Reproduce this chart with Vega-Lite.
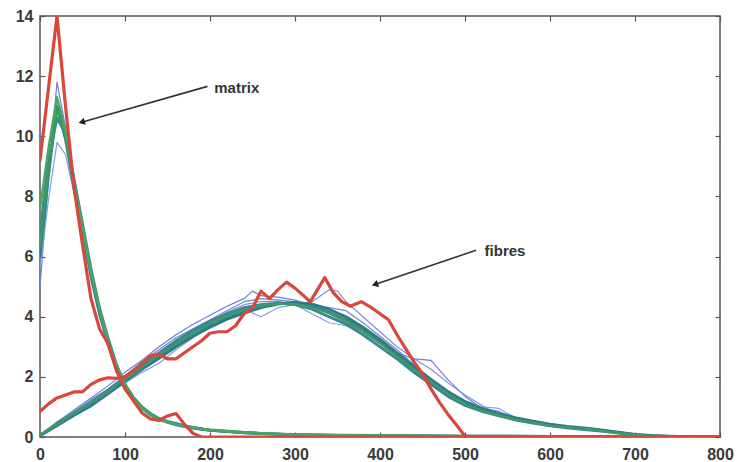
{
  "$schema": "https://vega.github.io/schema/vega-lite/v6.json",
  "width": 680,
  "height": 421,
  "autosize": "none",
  "padding": {"left": 40, "top": 16, "right": 19, "bottom": 25},
  "background": "white",
  "config": {
    "view": {"stroke": "#555", "strokeWidth": 1.5},
    "axis": {
      "domain": false, "grid": false, "tickColor": "#555", "tickSize": -5, "tickWidth": 1.2,
      "labelFont": "Liberation Sans", "labelFontSize": 16, "labelFontWeight": "bold", "labelColor": "#3a3a3a",
      "title": null
    }
  },
  "datasets": {
    "curves": [
      {"id":"mb1","x":0,"y":5.0},{"id":"mb1","x":10,"y":8.6},{"id":"mb1","x":20,"y":11.8},{"id":"mb1","x":30,"y":10.3},{"id":"mb1","x":40,"y":8.4},{"id":"mb1","x":50,"y":6.7},{"id":"mb1","x":60,"y":5.2},{"id":"mb1","x":70,"y":4.0},{"id":"mb1","x":80,"y":3.0},{"id":"mb1","x":90,"y":2.2},{"id":"mb1","x":100,"y":1.6},{"id":"mb1","x":110,"y":1.22},{"id":"mb1","x":120,"y":0.92},{"id":"mb1","x":130,"y":0.7},{"id":"mb1","x":140,"y":0.55},{"id":"mb1","x":150,"y":0.46},{"id":"mb1","x":160,"y":0.38},{"id":"mb1","x":170,"y":0.32},{"id":"mb1","x":180,"y":0.27},{"id":"mb1","x":190,"y":0.23},{"id":"mb1","x":200,"y":0.2},{"id":"mb1","x":220,"y":0.16},{"id":"mb1","x":240,"y":0.12},{"id":"mb1","x":260,"y":0.1},{"id":"mb1","x":280,"y":0.08},{"id":"mb1","x":300,"y":0.06},{"id":"mb1","x":350,"y":0.05},{"id":"mb1","x":400,"y":0.04},{"id":"mb1","x":450,"y":0.03},{"id":"mb1","x":500,"y":0.02},{"id":"mb1","x":600,"y":0.02},{"id":"mb1","x":700,"y":0.01},{"id":"mb1","x":800,"y":0},
      {"id":"mb2","x":0,"y":5.6},{"id":"mb2","x":10,"y":7.9},{"id":"mb2","x":20,"y":9.8},{"id":"mb2","x":30,"y":9.4},{"id":"mb2","x":40,"y":8.1},{"id":"mb2","x":50,"y":6.8},{"id":"mb2","x":60,"y":5.4},{"id":"mb2","x":70,"y":4.2},{"id":"mb2","x":80,"y":3.15},{"id":"mb2","x":90,"y":2.3},{"id":"mb2","x":100,"y":1.7},{"id":"mb2","x":110,"y":1.3},{"id":"mb2","x":120,"y":0.98},{"id":"mb2","x":130,"y":0.75},{"id":"mb2","x":140,"y":0.58},{"id":"mb2","x":150,"y":0.48},{"id":"mb2","x":160,"y":0.4},{"id":"mb2","x":170,"y":0.34},{"id":"mb2","x":180,"y":0.29},{"id":"mb2","x":190,"y":0.25},{"id":"mb2","x":200,"y":0.21},{"id":"mb2","x":220,"y":0.17},{"id":"mb2","x":240,"y":0.13},{"id":"mb2","x":260,"y":0.11},{"id":"mb2","x":280,"y":0.09},{"id":"mb2","x":300,"y":0.07},{"id":"mb2","x":350,"y":0.05},{"id":"mb2","x":400,"y":0.04},{"id":"mb2","x":500,"y":0.03},{"id":"mb2","x":600,"y":0.02},{"id":"mb2","x":700,"y":0.01},{"id":"mb2","x":800,"y":0},
      {"id":"fb1","x":0,"y":0.06},{"id":"fb1","x":20,"y":0.5},{"id":"fb1","x":40,"y":0.9},{"id":"fb1","x":60,"y":1.3},{"id":"fb1","x":80,"y":1.7},{"id":"fb1","x":100,"y":2.15},{"id":"fb1","x":120,"y":2.55},{"id":"fb1","x":140,"y":3.0},{"id":"fb1","x":160,"y":3.4},{"id":"fb1","x":180,"y":3.75},{"id":"fb1","x":200,"y":4.05},{"id":"fb1","x":220,"y":4.35},{"id":"fb1","x":240,"y":4.6},{"id":"fb1","x":250,"y":4.85},{"id":"fb1","x":260,"y":4.7},{"id":"fb1","x":280,"y":4.65},{"id":"fb1","x":300,"y":4.55},{"id":"fb1","x":320,"y":4.35},{"id":"fb1","x":340,"y":4.1},{"id":"fb1","x":360,"y":3.8},{"id":"fb1","x":380,"y":3.5},{"id":"fb1","x":400,"y":3.15},{"id":"fb1","x":420,"y":2.8},{"id":"fb1","x":440,"y":2.6},{"id":"fb1","x":460,"y":2.55},{"id":"fb1","x":480,"y":1.9},{"id":"fb1","x":500,"y":1.35},{"id":"fb1","x":520,"y":0.95},{"id":"fb1","x":540,"y":0.85},{"id":"fb1","x":560,"y":0.6},{"id":"fb1","x":580,"y":0.48},{"id":"fb1","x":600,"y":0.38},{"id":"fb1","x":640,"y":0.27},{"id":"fb1","x":680,"y":0.14},{"id":"fb1","x":700,"y":0.07},{"id":"fb1","x":740,"y":0.02},{"id":"fb1","x":800,"y":0},
      {"id":"fb2","x":0,"y":0.05},{"id":"fb2","x":20,"y":0.42},{"id":"fb2","x":40,"y":0.8},{"id":"fb2","x":60,"y":1.2},{"id":"fb2","x":80,"y":1.6},{"id":"fb2","x":100,"y":2.0},{"id":"fb2","x":120,"y":2.4},{"id":"fb2","x":140,"y":2.75},{"id":"fb2","x":160,"y":3.15},{"id":"fb2","x":180,"y":3.5},{"id":"fb2","x":200,"y":3.85},{"id":"fb2","x":220,"y":4.15},{"id":"fb2","x":240,"y":4.4},{"id":"fb2","x":260,"y":4.5},{"id":"fb2","x":280,"y":4.5},{"id":"fb2","x":300,"y":4.4},{"id":"fb2","x":320,"y":4.5},{"id":"fb2","x":340,"y":4.9},{"id":"fb2","x":350,"y":4.85},{"id":"fb2","x":360,"y":4.5},{"id":"fb2","x":380,"y":4.0},{"id":"fb2","x":400,"y":3.5},{"id":"fb2","x":420,"y":3.0},{"id":"fb2","x":440,"y":2.6},{"id":"fb2","x":460,"y":2.25},{"id":"fb2","x":480,"y":1.8},{"id":"fb2","x":500,"y":1.4},{"id":"fb2","x":520,"y":1.05},{"id":"fb2","x":540,"y":0.75},{"id":"fb2","x":560,"y":0.55},{"id":"fb2","x":580,"y":0.45},{"id":"fb2","x":600,"y":0.36},{"id":"fb2","x":640,"y":0.26},{"id":"fb2","x":680,"y":0.14},{"id":"fb2","x":700,"y":0.07},{"id":"fb2","x":740,"y":0.02},{"id":"fb2","x":800,"y":0},
      {"id":"fb3","x":0,"y":0.04},{"id":"fb3","x":20,"y":0.36},{"id":"fb3","x":40,"y":0.7},{"id":"fb3","x":60,"y":1.0},{"id":"fb3","x":80,"y":1.4},{"id":"fb3","x":100,"y":1.8},{"id":"fb3","x":120,"y":2.15},{"id":"fb3","x":140,"y":2.45},{"id":"fb3","x":160,"y":2.9},{"id":"fb3","x":180,"y":3.3},{"id":"fb3","x":200,"y":3.7},{"id":"fb3","x":220,"y":4.05},{"id":"fb3","x":240,"y":4.25},{"id":"fb3","x":260,"y":4.0},{"id":"fb3","x":280,"y":4.3},{"id":"fb3","x":300,"y":4.4},{"id":"fb3","x":320,"y":4.1},{"id":"fb3","x":340,"y":3.8},{"id":"fb3","x":360,"y":3.7},{"id":"fb3","x":380,"y":3.5},{"id":"fb3","x":400,"y":3.1},{"id":"fb3","x":420,"y":2.7},{"id":"fb3","x":440,"y":2.3},{"id":"fb3","x":460,"y":1.9},{"id":"fb3","x":480,"y":1.5},{"id":"fb3","x":500,"y":1.2},{"id":"fb3","x":520,"y":1.0},{"id":"fb3","x":540,"y":0.95},{"id":"fb3","x":560,"y":0.62},{"id":"fb3","x":580,"y":0.48},{"id":"fb3","x":600,"y":0.38},{"id":"fb3","x":640,"y":0.26},{"id":"fb3","x":680,"y":0.13},{"id":"fb3","x":700,"y":0.06},{"id":"fb3","x":740,"y":0.02},{"id":"fb3","x":800,"y":0},
      {"id":"fb4","x":0,"y":0.05},{"id":"fb4","x":20,"y":0.45},{"id":"fb4","x":40,"y":0.85},{"id":"fb4","x":60,"y":1.25},{"id":"fb4","x":80,"y":1.6},{"id":"fb4","x":100,"y":2.05},{"id":"fb4","x":120,"y":2.5},{"id":"fb4","x":140,"y":2.9},{"id":"fb4","x":160,"y":3.3},{"id":"fb4","x":180,"y":3.6},{"id":"fb4","x":200,"y":3.9},{"id":"fb4","x":220,"y":4.2},{"id":"fb4","x":240,"y":4.5},{"id":"fb4","x":260,"y":4.6},{"id":"fb4","x":280,"y":4.55},{"id":"fb4","x":300,"y":4.5},{"id":"fb4","x":320,"y":4.4},{"id":"fb4","x":340,"y":4.3},{"id":"fb4","x":360,"y":4.2},{"id":"fb4","x":380,"y":3.8},{"id":"fb4","x":400,"y":3.35},{"id":"fb4","x":420,"y":2.9},{"id":"fb4","x":440,"y":2.4},{"id":"fb4","x":460,"y":1.95},{"id":"fb4","x":480,"y":1.55},{"id":"fb4","x":500,"y":1.2},{"id":"fb4","x":520,"y":0.92},{"id":"fb4","x":540,"y":0.78},{"id":"fb4","x":560,"y":0.6},{"id":"fb4","x":580,"y":0.48},{"id":"fb4","x":600,"y":0.4},{"id":"fb4","x":640,"y":0.28},{"id":"fb4","x":680,"y":0.15},{"id":"fb4","x":700,"y":0.08},{"id":"fb4","x":740,"y":0.03},{"id":"fb4","x":800,"y":0},
      {"id":"mt1","x":0,"y":6.0},{"id":"mt1","x":10,"y":8.7},{"id":"mt1","x":20,"y":11.0},{"id":"mt1","x":30,"y":9.9},{"id":"mt1","x":40,"y":8.3},{"id":"mt1","x":50,"y":6.9},{"id":"mt1","x":60,"y":5.4},{"id":"mt1","x":70,"y":4.1},{"id":"mt1","x":80,"y":3.2},{"id":"mt1","x":90,"y":2.35},{"id":"mt1","x":100,"y":1.7},{"id":"mt1","x":110,"y":1.28},{"id":"mt1","x":120,"y":0.97},{"id":"mt1","x":130,"y":0.74},{"id":"mt1","x":140,"y":0.58},{"id":"mt1","x":150,"y":0.5},{"id":"mt1","x":160,"y":0.42},{"id":"mt1","x":170,"y":0.35},{"id":"mt1","x":180,"y":0.3},{"id":"mt1","x":190,"y":0.26},{"id":"mt1","x":200,"y":0.22},{"id":"mt1","x":220,"y":0.18},{"id":"mt1","x":240,"y":0.14},{"id":"mt1","x":260,"y":0.11},{"id":"mt1","x":280,"y":0.09},{"id":"mt1","x":300,"y":0.07},{"id":"mt1","x":350,"y":0.05},{"id":"mt1","x":400,"y":0.04},{"id":"mt1","x":500,"y":0.03},{"id":"mt1","x":600,"y":0.02},{"id":"mt1","x":700,"y":0.01},{"id":"mt1","x":800,"y":0},
      {"id":"mt2","x":0,"y":6.8},{"id":"mt2","x":10,"y":9.2},{"id":"mt2","x":20,"y":10.6},{"id":"mt2","x":30,"y":10.1},{"id":"mt2","x":40,"y":8.6},{"id":"mt2","x":50,"y":7.1},{"id":"mt2","x":60,"y":5.6},{"id":"mt2","x":70,"y":4.3},{"id":"mt2","x":80,"y":3.3},{"id":"mt2","x":90,"y":2.4},{"id":"mt2","x":100,"y":1.75},{"id":"mt2","x":110,"y":1.32},{"id":"mt2","x":120,"y":1.0},{"id":"mt2","x":130,"y":0.78},{"id":"mt2","x":140,"y":0.62},{"id":"mt2","x":150,"y":0.52},{"id":"mt2","x":160,"y":0.45},{"id":"mt2","x":170,"y":0.38},{"id":"mt2","x":180,"y":0.32},{"id":"mt2","x":190,"y":0.27},{"id":"mt2","x":200,"y":0.23},{"id":"mt2","x":220,"y":0.19},{"id":"mt2","x":240,"y":0.15},{"id":"mt2","x":260,"y":0.12},{"id":"mt2","x":280,"y":0.1},{"id":"mt2","x":300,"y":0.08},{"id":"mt2","x":350,"y":0.06},{"id":"mt2","x":400,"y":0.05},{"id":"mt2","x":500,"y":0.03},{"id":"mt2","x":600,"y":0.02},{"id":"mt2","x":700,"y":0.01},{"id":"mt2","x":800,"y":0},
      {"id":"ft1","x":0,"y":0.05},{"id":"ft1","x":20,"y":0.4},{"id":"ft1","x":40,"y":0.75},{"id":"ft1","x":60,"y":1.1},{"id":"ft1","x":80,"y":1.5},{"id":"ft1","x":100,"y":1.9},{"id":"ft1","x":120,"y":2.3},{"id":"ft1","x":140,"y":2.7},{"id":"ft1","x":160,"y":3.1},{"id":"ft1","x":180,"y":3.45},{"id":"ft1","x":200,"y":3.75},{"id":"ft1","x":220,"y":4.0},{"id":"ft1","x":240,"y":4.2},{"id":"ft1","x":260,"y":4.35},{"id":"ft1","x":280,"y":4.45},{"id":"ft1","x":300,"y":4.45},{"id":"ft1","x":320,"y":4.35},{"id":"ft1","x":340,"y":4.15},{"id":"ft1","x":360,"y":3.9},{"id":"ft1","x":380,"y":3.55},{"id":"ft1","x":400,"y":3.15},{"id":"ft1","x":420,"y":2.7},{"id":"ft1","x":440,"y":2.25},{"id":"ft1","x":460,"y":1.85},{"id":"ft1","x":480,"y":1.45},{"id":"ft1","x":500,"y":1.12},{"id":"ft1","x":520,"y":0.9},{"id":"ft1","x":540,"y":0.74},{"id":"ft1","x":560,"y":0.6},{"id":"ft1","x":580,"y":0.5},{"id":"ft1","x":600,"y":0.4},{"id":"ft1","x":620,"y":0.33},{"id":"ft1","x":640,"y":0.28},{"id":"ft1","x":660,"y":0.22},{"id":"ft1","x":680,"y":0.15},{"id":"ft1","x":700,"y":0.08},{"id":"ft1","x":720,"y":0.04},{"id":"ft1","x":740,"y":0.02},{"id":"ft1","x":760,"y":0.01},{"id":"ft1","x":800,"y":0},
      {"id":"ft2","x":0,"y":0.05},{"id":"ft2","x":20,"y":0.45},{"id":"ft2","x":40,"y":0.8},{"id":"ft2","x":60,"y":1.15},{"id":"ft2","x":80,"y":1.55},{"id":"ft2","x":100,"y":1.95},{"id":"ft2","x":120,"y":2.4},{"id":"ft2","x":140,"y":2.8},{"id":"ft2","x":160,"y":3.2},{"id":"ft2","x":180,"y":3.55},{"id":"ft2","x":200,"y":3.85},{"id":"ft2","x":220,"y":4.1},{"id":"ft2","x":240,"y":4.3},{"id":"ft2","x":260,"y":4.4},{"id":"ft2","x":280,"y":4.45},{"id":"ft2","x":300,"y":4.4},{"id":"ft2","x":320,"y":4.25},{"id":"ft2","x":340,"y":4.0},{"id":"ft2","x":360,"y":3.75},{"id":"ft2","x":380,"y":3.4},{"id":"ft2","x":400,"y":3.0},{"id":"ft2","x":420,"y":2.6},{"id":"ft2","x":440,"y":2.15},{"id":"ft2","x":460,"y":1.75},{"id":"ft2","x":480,"y":1.35},{"id":"ft2","x":500,"y":1.05},{"id":"ft2","x":520,"y":0.85},{"id":"ft2","x":540,"y":0.7},{"id":"ft2","x":560,"y":0.56},{"id":"ft2","x":580,"y":0.46},{"id":"ft2","x":600,"y":0.37},{"id":"ft2","x":620,"y":0.3},{"id":"ft2","x":640,"y":0.25},{"id":"ft2","x":660,"y":0.2},{"id":"ft2","x":680,"y":0.13},{"id":"ft2","x":700,"y":0.07},{"id":"ft2","x":720,"y":0.03},{"id":"ft2","x":740,"y":0.02},{"id":"ft2","x":760,"y":0.01},{"id":"ft2","x":800,"y":0},
      {"id":"ft3","x":0,"y":0.04},{"id":"ft3","x":20,"y":0.38},{"id":"ft3","x":40,"y":0.72},{"id":"ft3","x":60,"y":1.05},{"id":"ft3","x":80,"y":1.45},{"id":"ft3","x":100,"y":1.85},{"id":"ft3","x":120,"y":2.25},{"id":"ft3","x":140,"y":2.62},{"id":"ft3","x":160,"y":3.0},{"id":"ft3","x":180,"y":3.35},{"id":"ft3","x":200,"y":3.65},{"id":"ft3","x":220,"y":3.92},{"id":"ft3","x":240,"y":4.12},{"id":"ft3","x":260,"y":4.3},{"id":"ft3","x":280,"y":4.42},{"id":"ft3","x":300,"y":4.48},{"id":"ft3","x":320,"y":4.42},{"id":"ft3","x":340,"y":4.25},{"id":"ft3","x":360,"y":4.0},{"id":"ft3","x":380,"y":3.65},{"id":"ft3","x":400,"y":3.25},{"id":"ft3","x":420,"y":2.8},{"id":"ft3","x":440,"y":2.35},{"id":"ft3","x":460,"y":1.9},{"id":"ft3","x":480,"y":1.5},{"id":"ft3","x":500,"y":1.18},{"id":"ft3","x":520,"y":0.95},{"id":"ft3","x":540,"y":0.78},{"id":"ft3","x":560,"y":0.64},{"id":"ft3","x":580,"y":0.53},{"id":"ft3","x":600,"y":0.43},{"id":"ft3","x":620,"y":0.35},{"id":"ft3","x":640,"y":0.3},{"id":"ft3","x":660,"y":0.24},{"id":"ft3","x":680,"y":0.16},{"id":"ft3","x":700,"y":0.09},{"id":"ft3","x":720,"y":0.05},{"id":"ft3","x":740,"y":0.03},{"id":"ft3","x":760,"y":0.01},{"id":"ft3","x":800,"y":0},
      {"id":"mg1","x":0,"y":6.3},{"id":"mg1","x":10,"y":8.9},{"id":"mg1","x":20,"y":10.9},{"id":"mg1","x":30,"y":10.0},{"id":"mg1","x":40,"y":8.4},{"id":"mg1","x":50,"y":6.9},{"id":"mg1","x":60,"y":5.5},{"id":"mg1","x":70,"y":4.2},{"id":"mg1","x":80,"y":3.25},{"id":"mg1","x":90,"y":2.4},{"id":"mg1","x":100,"y":1.72},{"id":"mg1","x":110,"y":1.3},{"id":"mg1","x":120,"y":0.98},{"id":"mg1","x":130,"y":0.76},{"id":"mg1","x":140,"y":0.6},{"id":"mg1","x":150,"y":0.5},{"id":"mg1","x":160,"y":0.43},{"id":"mg1","x":170,"y":0.37},{"id":"mg1","x":180,"y":0.32},{"id":"mg1","x":190,"y":0.28},{"id":"mg1","x":200,"y":0.24},{"id":"mg1","x":220,"y":0.2},{"id":"mg1","x":240,"y":0.16},{"id":"mg1","x":260,"y":0.13},{"id":"mg1","x":280,"y":0.1},{"id":"mg1","x":300,"y":0.08},{"id":"mg1","x":350,"y":0.06},{"id":"mg1","x":400,"y":0.05},{"id":"mg1","x":500,"y":0.03},{"id":"mg1","x":600,"y":0.02},{"id":"mg1","x":700,"y":0.01},{"id":"mg1","x":800,"y":0.01},
      {"id":"mg2","x":0,"y":7.6},{"id":"mg2","x":10,"y":9.6},{"id":"mg2","x":20,"y":11.3},{"id":"mg2","x":30,"y":10.2},{"id":"mg2","x":40,"y":8.5},{"id":"mg2","x":50,"y":7.0},{"id":"mg2","x":60,"y":5.5},{"id":"mg2","x":70,"y":4.25},{"id":"mg2","x":80,"y":3.2},{"id":"mg2","x":90,"y":2.35},{"id":"mg2","x":100,"y":1.7},{"id":"mg2","x":110,"y":1.27},{"id":"mg2","x":120,"y":0.95},{"id":"mg2","x":130,"y":0.73},{"id":"mg2","x":140,"y":0.58},{"id":"mg2","x":150,"y":0.49},{"id":"mg2","x":160,"y":0.42},{"id":"mg2","x":170,"y":0.36},{"id":"mg2","x":180,"y":0.31},{"id":"mg2","x":190,"y":0.27},{"id":"mg2","x":200,"y":0.23},{"id":"mg2","x":220,"y":0.19},{"id":"mg2","x":240,"y":0.15},{"id":"mg2","x":260,"y":0.12},{"id":"mg2","x":280,"y":0.1},{"id":"mg2","x":300,"y":0.08},{"id":"mg2","x":350,"y":0.06},{"id":"mg2","x":400,"y":0.04},{"id":"mg2","x":500,"y":0.03},{"id":"mg2","x":600,"y":0.02},{"id":"mg2","x":700,"y":0.01},{"id":"mg2","x":800,"y":0.01},
      {"id":"fg","x":0,"y":0.05},{"id":"fg","x":20,"y":0.42},{"id":"fg","x":40,"y":0.78},{"id":"fg","x":60,"y":1.12},{"id":"fg","x":80,"y":1.5},{"id":"fg","x":100,"y":1.9},{"id":"fg","x":120,"y":2.32},{"id":"fg","x":140,"y":2.72},{"id":"fg","x":160,"y":3.1},{"id":"fg","x":180,"y":3.45},{"id":"fg","x":200,"y":3.78},{"id":"fg","x":220,"y":4.02},{"id":"fg","x":240,"y":4.22},{"id":"fg","x":260,"y":4.36},{"id":"fg","x":280,"y":4.44},{"id":"fg","x":300,"y":4.42},{"id":"fg","x":320,"y":4.32},{"id":"fg","x":340,"y":4.12},{"id":"fg","x":360,"y":3.86},{"id":"fg","x":380,"y":3.52},{"id":"fg","x":400,"y":3.12},{"id":"fg","x":420,"y":2.68},{"id":"fg","x":440,"y":2.24},{"id":"fg","x":460,"y":1.84},{"id":"fg","x":480,"y":1.44},{"id":"fg","x":500,"y":1.1},{"id":"fg","x":520,"y":0.88},{"id":"fg","x":540,"y":0.72},{"id":"fg","x":560,"y":0.58},{"id":"fg","x":580,"y":0.48},{"id":"fg","x":600,"y":0.38},{"id":"fg","x":640,"y":0.27},{"id":"fg","x":680,"y":0.14},{"id":"fg","x":700,"y":0.07},{"id":"fg","x":740,"y":0.02},{"id":"fg","x":800,"y":0.01},
      {"id":"mr","x":0,"y":9.2},{"id":"mr","x":10,"y":11.6},{"id":"mr","x":20,"y":14.0},{"id":"mr","x":30,"y":11.0},{"id":"mr","x":40,"y":8.3},{"id":"mr","x":50,"y":6.4},{"id":"mr","x":60,"y":4.6},{"id":"mr","x":70,"y":3.6},{"id":"mr","x":80,"y":3.1},{"id":"mr","x":90,"y":2.2},{"id":"mr","x":100,"y":1.6},{"id":"mr","x":110,"y":1.2},{"id":"mr","x":120,"y":0.8},{"id":"mr","x":130,"y":0.6},{"id":"mr","x":140,"y":0.55},{"id":"mr","x":150,"y":0.7},{"id":"mr","x":160,"y":0.78},{"id":"mr","x":170,"y":0.42},{"id":"mr","x":180,"y":0.12},{"id":"mr","x":190,"y":0},{"id":"mr","x":300,"y":0},{"id":"mr","x":500,"y":0},{"id":"mr","x":800,"y":0},
      {"id":"fr","x":0,"y":0.85},{"id":"fr","x":10,"y":1.1},{"id":"fr","x":20,"y":1.3},{"id":"fr","x":30,"y":1.4},{"id":"fr","x":40,"y":1.5},{"id":"fr","x":50,"y":1.5},{"id":"fr","x":60,"y":1.75},{"id":"fr","x":70,"y":1.9},{"id":"fr","x":80,"y":1.97},{"id":"fr","x":90,"y":1.95},{"id":"fr","x":100,"y":2.0},{"id":"fr","x":110,"y":2.2},{"id":"fr","x":120,"y":2.45},{"id":"fr","x":130,"y":2.7},{"id":"fr","x":140,"y":2.75},{"id":"fr","x":150,"y":2.6},{"id":"fr","x":160,"y":2.6},{"id":"fr","x":170,"y":2.8},{"id":"fr","x":180,"y":3.0},{"id":"fr","x":190,"y":3.2},{"id":"fr","x":200,"y":3.45},{"id":"fr","x":210,"y":3.5},{"id":"fr","x":220,"y":3.5},{"id":"fr","x":230,"y":3.7},{"id":"fr","x":240,"y":4.1},{"id":"fr","x":250,"y":4.3},{"id":"fr","x":260,"y":4.85},{"id":"fr","x":270,"y":4.6},{"id":"fr","x":280,"y":4.9},{"id":"fr","x":290,"y":5.15},{"id":"fr","x":300,"y":4.95},{"id":"fr","x":310,"y":4.7},{"id":"fr","x":318,"y":4.5},{"id":"fr","x":335,"y":5.3},{"id":"fr","x":345,"y":4.8},{"id":"fr","x":355,"y":4.5},{"id":"fr","x":365,"y":4.35},{"id":"fr","x":378,"y":4.5},{"id":"fr","x":390,"y":4.3},{"id":"fr","x":400,"y":4.1},{"id":"fr","x":410,"y":3.9},{"id":"fr","x":420,"y":3.4},{"id":"fr","x":430,"y":2.95},{"id":"fr","x":440,"y":2.5},{"id":"fr","x":450,"y":2.1},{"id":"fr","x":460,"y":1.6},{"id":"fr","x":470,"y":1.15},{"id":"fr","x":480,"y":0.75},{"id":"fr","x":490,"y":0.4},{"id":"fr","x":500,"y":0.03},{"id":"fr","x":510,"y":0},{"id":"fr","x":800,"y":0}
    ],
    "arrows": [
      {"label":"matrix","pt":"start","x":197,"y":11.66},{"label":"matrix","pt":"end","x":49,"y":10.47},
      {"label":"fibres","pt":"start","x":513,"y":6.21},{"label":"fibres","pt":"end","x":394,"y":5.07}
    ],
    "labels": [
      {"label":"matrix","x":205,"y":11.62},
      {"label":"fibres","x":523,"y":6.18}
    ]
  },
  "resolve": {"axis": {"x": "independent", "y": "independent"}},
  "layer": [
    {
      "data": {"name": "curves"},
      "mark": {"type": "line", "clip": true, "strokeJoin": "round", "strokeCap": "round"},
      "encoding": {
        "x": {"field": "x", "type": "quantitative", "scale": {"domain": [0, 800], "nice": false},
              "axis": {"orient": "bottom", "values": [0,100,200,300,400,500,600,700,800], "labelPadding": 14, "labelFlush": false}},
        "y": {"field": "y", "type": "quantitative", "scale": {"domain": [0, 14], "nice": false},
              "axis": {"orient": "left", "values": [0,2,4,6,8,10,12,14], "labelPadding": 12}},
        "detail": {"field": "id"},
        "color": {"field": "id", "type": "nominal", "legend": null,
          "scale": {
            "domain": ["mb1","mb2","fb1","fb2","fb3","fb4","mt1","mt2","ft1","ft2","ft3","mg1","mg2","fg","mr","fr"],
            "range": ["#6f83d6","#7fa0de","#6f7fd8","#7c8fdc","#8a9ae0","#6a86d4","#2e7f8c","#3b8a96","#2e7f8c","#3a8793","#2a7a88","#3c9a5a","#4aa566","#3d9a68","#d9463c","#d9463c"]
          }},
        "strokeWidth": {"field": "id", "type": "ordinal", "legend": null,
          "scale": {
            "type": "ordinal",
            "domain": ["mb1","mb2","fb1","fb2","fb3","fb4","mt1","mt2","ft1","ft2","ft3","mg1","mg2","fg","mr","fr"],
            "range": [1.2,1.2,1.2,1.2,1.2,1.2,2.8,2.8,2.8,2.8,2.8,2.4,2.4,2.4,3.2,3.2]
          }}
      }
    },
    {
      "data": {"name": "arrows"},
      "mark": {"type": "line", "color": "#333", "strokeWidth": 1.6},
      "encoding": {
        "x": {"field": "x", "type": "quantitative",
              "axis": {"orient": "top", "values": [0,100,200,300,400,500,600,700,800], "labels": false}},
        "y": {"field": "y", "type": "quantitative",
              "axis": {"orient": "right", "values": [0,2,4,6,8,10,12,14], "labels": false}},
        "detail": {"field": "label"}
      }
    },
    {
      "data": {"name": "arrows"},
      "transform": [{"filter": "datum.pt === 'end' && datum.label === 'matrix'"}],
      "mark": {"type": "point", "shape": "triangle-left", "filled": true, "color": "#222", "size": 55, "angle": -16, "opacity": 1},
      "encoding": {
        "x": {"field": "x", "type": "quantitative", "axis": null},
        "y": {"field": "y", "type": "quantitative", "axis": null}
      }
    },
    {
      "data": {"name": "arrows"},
      "transform": [{"filter": "datum.pt === 'end' && datum.label === 'fibres'"}],
      "mark": {"type": "point", "shape": "triangle-left", "filled": true, "color": "#222", "size": 55, "angle": -19, "opacity": 1},
      "encoding": {
        "x": {"field": "x", "type": "quantitative", "axis": null},
        "y": {"field": "y", "type": "quantitative", "axis": null}
      }
    },
    {
      "data": {"name": "labels"},
      "mark": {"type": "text", "align": "left", "baseline": "middle", "font": "Liberation Sans", "fontSize": 15, "fontWeight": "bold", "color": "#333"},
      "encoding": {
        "x": {"field": "x", "type": "quantitative", "axis": null},
        "y": {"field": "y", "type": "quantitative", "axis": null},
        "text": {"field": "label"}
      }
    }
  ]
}
